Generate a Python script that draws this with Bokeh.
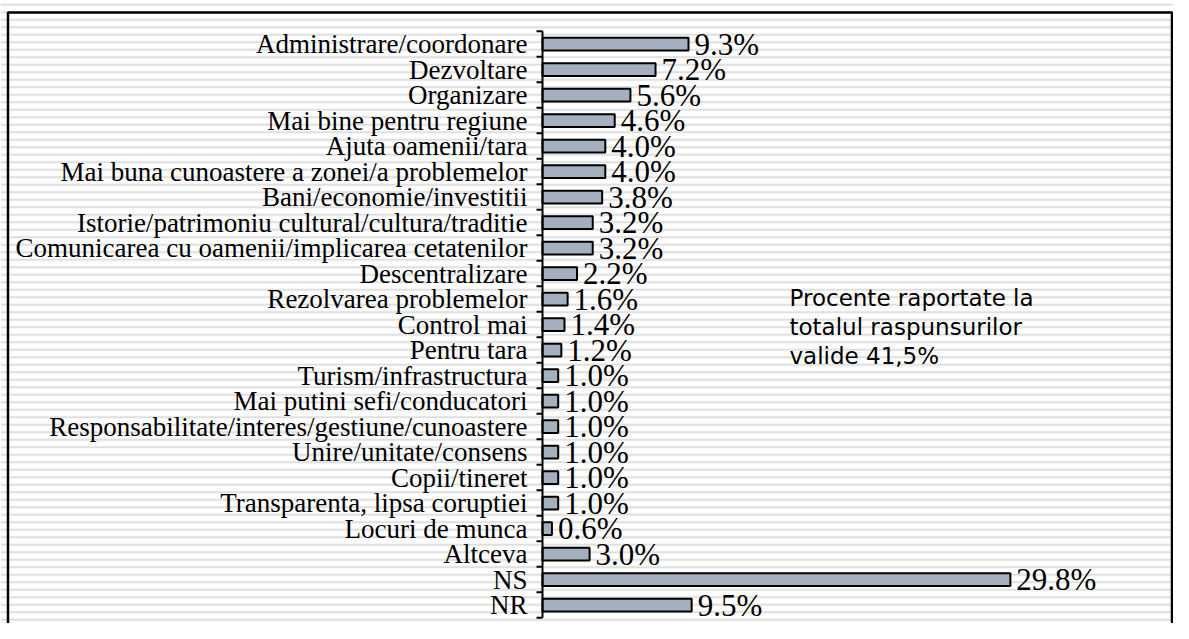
from bokeh.plotting import figure
from bokeh.models import Range1d, BoxAnnotation, Label, ColumnDataSource
from bokeh.core.properties import value
from bokeh.embed import file_html
from bokeh.resources import INLINE

categories = [
    "Administrare/coordonare",
    "Dezvoltare",
    "Organizare",
    "Mai bine pentru regiune",
    "Ajuta oamenii/tara",
    "Mai buna cunoastere a zonei/a problemelor",
    "Bani/economie/investitii",
    "Istorie/patrimoniu cultural/cultura/traditie",
    "Comunicarea cu oamenii/implicarea cetatenilor",
    "Descentralizare",
    "Rezolvarea problemelor",
    "Control mai",
    "Pentru tara",
    "Turism/infrastructura",
    "Mai putini sefi/conducatori",
    "Responsabilitate/interes/gestiune/cunoastere",
    "Unire/unitate/consens",
    "Copii/tineret",
    "Transparenta, lipsa coruptiei",
    "Locuri de munca",
    "Altceva",
    "NS",
    "NR",
]
values = [9.3, 7.2, 5.6, 4.6, 4.0, 4.0, 3.8, 3.2, 3.2, 2.2, 1.6, 1.4, 1.2,
          1.0, 1.0, 1.0, 1.0, 1.0, 1.0, 0.6, 3.0, 29.8, 9.5]
value_labels = ["%.1f%%" % v for v in values]
note = "Procente raportate la\ntotalul raspunsurilor\nvalide 41,5%"

W, H = 1173, 623
PX = 15.7          # pixels per percent
AX = 542           # axis position inside canvas
ROW = 25.5         # pixels per category
Y0 = 43.5          # centre of first category inside canvas

x_start = -AX / PX
x_end = (W - AX) / PX
y_top = -Y0 / ROW
y_bot = (H - Y0) / ROW

p = figure(width=W, height=H, output_backend="svg", toolbar_location=None,
           x_range=Range1d(x_start, x_end), y_range=Range1d(y_bot, y_top),
           min_border=0, min_border_left=0, min_border_right=0,
           min_border_top=0, min_border_bottom=0)
p.axis.visible = False
p.grid.visible = False
p.outline_line_color = None
p.background_fill_color = "white"
p.border_fill_color = "white"

# striped background
p.add_layout(BoxAnnotation(fill_alpha=0, line_alpha=0,
                           hatch_pattern="horizontal_line", hatch_color="#e0e0e0",
                           hatch_scale=7.5, hatch_weight=2.2, level="underlay"))

# border (top, left, right)
bx0 = x_start + 7.5 / PX
bx1 = x_end - 1.5 / PX
by_top = y_top + 12 / ROW
p.line([bx0, bx0, bx1, bx1], [y_bot + 2, by_top, by_top, y_bot + 2],
       line_color="black", line_width=2.5)

n = len(categories)
ys = list(range(n))
src = ColumnDataSource(dict(y=ys, v=values, cat=categories, lab=value_labels,
                            zero=[0] * n))

# bars
p.hbar(y="y", left="zero", right="v", height=0.5, source=src,
       fill_color="#a4b0be", line_color="black", line_width=2)

# axis line and ticks
p.line([0, 0], [-0.5, n - 0.5], line_color="black", line_width=2)
tick_y = [i - 0.5 for i in range(n + 1)]
p.segment(x0=[-6 / PX] * (n + 1), x1=[0] * (n + 1), y0=tick_y, y1=tick_y,
          line_color="black", line_width=2)

# category labels
p.text(x="zero", y="y", text="cat", source=src, x_offset=-15,
       text_align="right", text_baseline="middle",
       text_font=value("Liberation Serif"), text_font_size="27px",
       text_color="black")

# value labels
p.text(x="v", y="y", text="lab", source=src, x_offset=6,
       text_align="left", text_baseline="middle",
       text_font=value("Liberation Serif"), text_font_size="31px",
       text_color="black")

# note
p.add_layout(Label(x=(789 - AX) / PX, y=(284 - Y0) / ROW, text=note,
                   text_font="DejaVu Sans", text_font_size="23px",
                   text_align="left", text_baseline="top",
                   text_line_height=1.13, text_color="black"))

open("out.html", "w").write(file_html(p, INLINE))
